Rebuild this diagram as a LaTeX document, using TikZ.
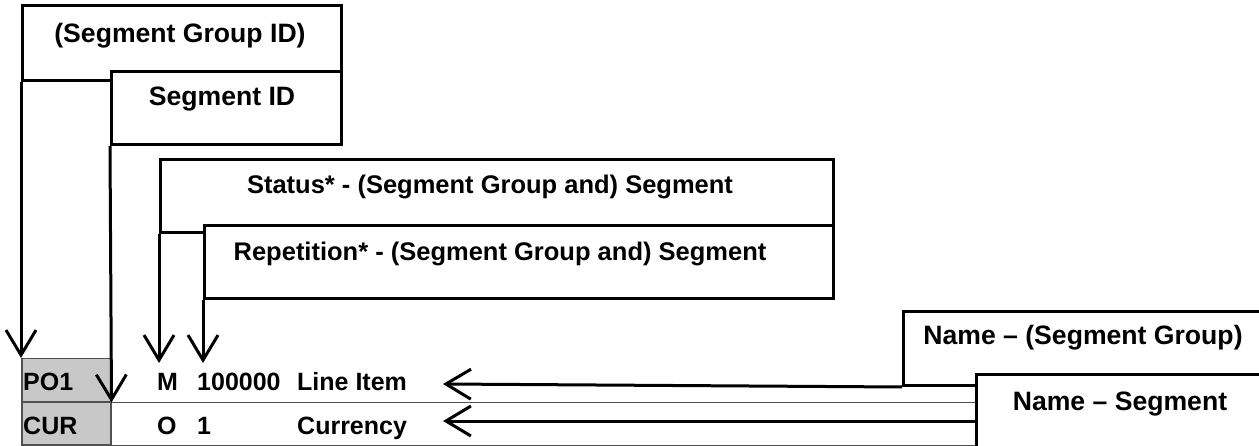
\documentclass[tikz,border=0pt]{standalone}
\usepackage{fontspec}
\setmainfont{Liberation Sans}
\usetikzlibrary{arrows.meta}
\definecolor{cellgray}{RGB}{200,200,200}
\definecolor{rulegray}{RGB}{80,80,80}
\begin{document}
\begin{tikzpicture}[x=1pt,y=-1pt,
  box/.style={draw=black, line width=3pt, fill=white, anchor=north west, inner sep=0pt},
  lbl/.style={font=\fontsize{26.6}{30}\selectfont\bfseries, anchor=base, inner sep=0pt},
  lbls/.style={font=\fontsize{25.5}{30}\selectfont\bfseries, anchor=base, inner sep=0pt},
  rowtxt/.style={font=\fontsize{25}{28}\selectfont\bfseries, anchor=base west, inner sep=0pt},
  cell/.style={draw=rulegray, line width=1.5pt, fill=cellgray, anchor=north west, inner sep=0pt, minimum width=89pt, minimum height=43pt},
  arr/.style={line width=3pt, -{Straight Barb[length=25pt,width=30pt]}},
  rulel/.style={draw=rulegray, line width=1.5pt}]
\path[use as bounding box] (0,0) rectangle (1259,446);
\clip (0,0) rectangle (1259,446);

% rows
\node[cell] (p1) at (21,358) {};
\node[cell] (c1) at (21,401) {};
\coordinate (rend) at (975,0);
\draw[rulel] (p1.south east) -- (rend |- p1.south);
\draw[rulel] (c1.south east) -- (rend |- c1.south);

\node[rowtxt] (po) at (23,391) {PO1};
\node[rowtxt] (cu) at (23,434) {CUR};
\node[rowtxt] (m) at (157,391) {M};
\node[rowtxt] (n1) at (197,391) {100000};
\node[rowtxt] (li) at (297,391) {Line Item};
\node[rowtxt] (o) at (157,434) {O};
\node[rowtxt] (n2) at (197,434) {1};
\node[rowtxt] (cy) at (297,434) {Currency};

% top boxes
\node[box, minimum width=319pt, minimum height=75pt] (b1) at (21,4) {};
\node[lbl] (t1) at (180,43) {(Segment Group ID)};
\draw[arr] (b1.south west) -- (p1.north west);

\node[box, minimum width=230pt, minimum height=73pt] (b2) at (110,70) {};
\node[lbl] (t2) at (222,106) {Segment ID};
\draw[arr] (b2.south west) -- (p1.south east);

\node[box, minimum width=673pt, minimum height=73pt] (b3) at (159,158) {};
\node[lbls] (t3) at (490,194) {Status* - (Segment Group and) Segment};
\coordinate (mt) at (159,363);
\draw[arr] (b3.south west) -- (mt);

\node[box, minimum width=629pt, minimum height=73pt] (b4) at (203,224) {};
\node[lbls] (t4) at (500,261) {Repetition* - (Segment Group and) Segment};
\draw[arr] (b4.south west) -- (b4.south west |- mt);

% right boxes
\node[box, minimum width=380pt, minimum height=74pt] (b5) at (902,310) {};
\node[lbl] (t5) at (1083,345) {Name – (Segment Group)};
\coordinate (h1) at (443,384);
\draw[arr] (b5.south west) -- (h1);

\coordinate (h2) at (443,421);
\draw[arr] (rend |- h2) -- (h2);
\node[box, minimum width=300pt, minimum height=90pt] (b6) at (975,373) {};
\node[lbl] (t6) at (1120,410) {Name – Segment};
\end{tikzpicture}
\end{document}
